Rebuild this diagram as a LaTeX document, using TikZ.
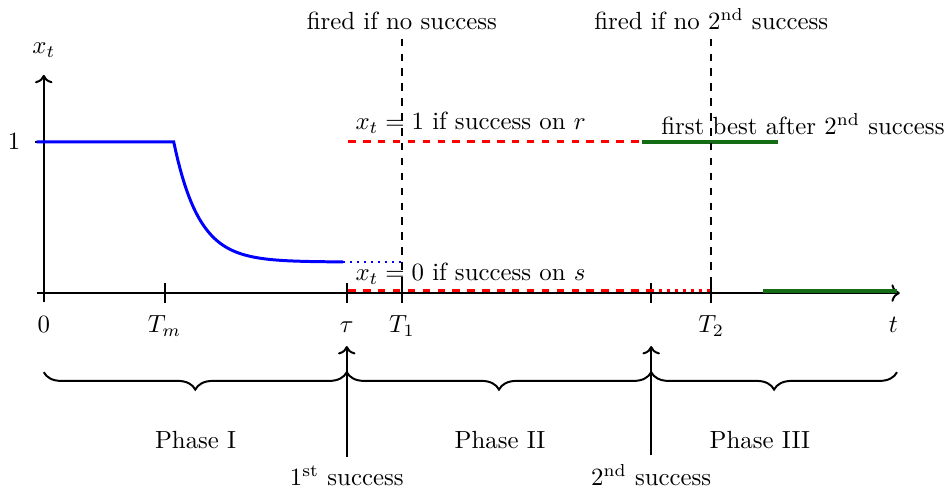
\documentclass[tikz,border=0pt]{standalone}
\usepackage{amsmath}
\usetikzlibrary{arrows.meta,positioning,decorations.pathreplacing}
\definecolor{darkgreen}{HTML}{146C14}
\tikzset{
  axisline/.style={thick},
  blueline/.style={blue, line width=1.2pt},
  redline/.style={red, line width=1.2pt, dashed},
  greenline/.style={darkgreen, line width=1.4pt},
  firedline/.style={thick, dashed},
  phasebrace/.style={thick, decorate, decoration={brace, mirror, amplitude=7pt}},
}
\begin{document}
\begin{tikzpicture}
  \useasboundingbox (-0.62,-2.75) rectangle (12.76,4.15);
  % axes
  \draw[axisline, ->] (-0.1,0) -- (12.12,0);
  \draw[axisline, ->] (0,-0.13) -- (0,3.09);
  \node (xt) at (0,3.44) {$x_t$};
  \node (one) at (-0.42,2.14) {$1$};
  \draw[axisline] (-0.12,2.14) -- (0,2.14);
  % ticks on the time axis
  \foreach \x in {1.71,4.29,5.07,8.60,9.45}
    \draw[axisline] (\x,0.14) -- (\x,-0.14);
  \foreach \x/\name/\txt in {0/lzero/0, 1.71/ltm/T_m, 4.29/ltau/\tau, 5.07/lone/T_1, 9.45/ltwo/T_2, 12.03/lt/t}
    \node[anchor=base] (\name) at (\x,-0.56) {$\txt$};
  % phase I path
  \draw[blueline] (-0.1,2.14) -- (1.84,2.14)
    -- plot[domain=1.84:4.24, samples=80] (\x, {0.44+1.70*exp(-2.82*(\x-1.84))});
  \draw[blue, thick, dotted] (4.24,0.44) -- (5.07,0.44);
  % phase II
  \draw[redline] (4.31,2.14) -- (8.80,2.14);
  \draw[redline] (4.31,0.04) -- (8.60,0.04);
  \draw[red, line width=1.2pt, dotted] (8.60,0.04) -- (9.45,0.04);
  % phase III
  \draw[greenline] (8.47,2.14) -- (10.40,2.14);
  \draw[greenline] (10.18,0.03) -- (12.08,0.03);
  \node[anchor=south west] (onr) at (4.29,2.14) {$x_t=1$ if success on $r$};
  \node[anchor=south west] (ons) at (4.29,0) {$x_t=0$ if success on $s$};
  \node[anchor=south west] (best) at (8.62,2.12) {first best after 2\textsuperscript{nd} success};
  % firing deadlines
  \node[anchor=base] (fire1) at (5.07,3.73) {fired if no success};
  \node[anchor=base] (fire2) at (9.45,3.73) {fired if no 2\textsuperscript{nd} success};
  \coordinate (d1) at (5.07,0);
  \coordinate (d2) at (9.45,0);
  \draw[firedline] (fire1) -- (d1);
  \draw[firedline] (fire2) -- (d2);
  % phases
  \draw[phasebrace] (0,-1.12) -- (4.29,-1.12);
  \draw[phasebrace] (4.29,-1.12) -- (8.60,-1.12);
  \draw[phasebrace] (8.60,-1.12) -- (12.08,-1.12);
  \node (ph1) at (2.15,-2.08) {Phase I};
  \node (ph2) at (6.46,-2.08) {Phase II};
  \node (ph3) at (10.14,-2.08) {Phase III};
  \coordinate (tip1) at (4.29,-0.75);
  \coordinate (tip2) at (8.60,-0.75);
  \node[anchor=base] (succ1) at (4.29,-2.72) {1\textsuperscript{st} success};
  \node[anchor=base] (succ2) at (8.60,-2.72) {2\textsuperscript{nd} success};
  \draw[axisline, ->] (succ1) -- (tip1);
  \draw[axisline, ->] (succ2) -- (tip2);
\end{tikzpicture}
\end{document}
